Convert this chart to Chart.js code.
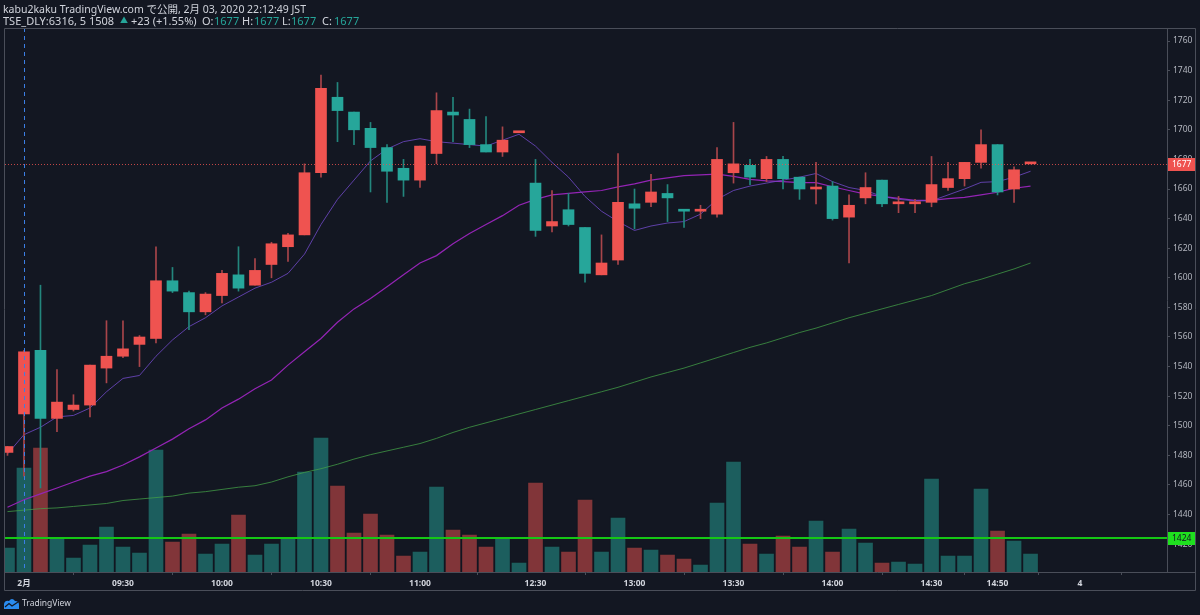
<!DOCTYPE html>
<html>
<head>
<meta charset="utf-8">
<script src="https://cdn.jsdelivr.net/npm/chart.js@4.4.0/dist/chart.umd.min.js"></script>
<style>
  html, body { margin: 0; padding: 0; background: #131722; }
  canvas { display: block; }
</style>
</head>
<body>
<canvas id="priceChart" width="1200" height="615" style="width:1200px;height:615px"></canvas>
<script>
// 5 minute bars, 6316 on 2020-02-03. First bar is the last one of the previous day (index -1).
const firstIndex = -1;

const opens = [1482,
  1508, 1551, 1505, 1511, 1514, 1539, 1547, 1555, 1559, 1598,
  1590, 1577, 1588, 1602, 1595, 1609, 1621, 1629, 1671, 1722,
  1712, 1701, 1688, 1674, 1666, 1684, 1712, 1707, 1690, 1685,
  1698, 1664, 1635, 1646, 1634, 1602, 1612, 1650, 1651, 1657,
  1646, 1645, 1643, 1671, 1676, 1667, 1680, 1668, 1660, 1662,
  1641, 1654, 1666, 1650, 1650, 1651, 1661, 1667, 1678, 1690,
  1660, 1677];
const highs = [1486,
  1551, 1595, 1538, 1521, 1541, 1571, 1571, 1561, 1621, 1607,
  1591, 1590, 1605, 1621, 1613, 1624, 1630, 1677, 1737, 1732,
  1712, 1705, 1690, 1680, 1689, 1725, 1722, 1714, 1709, 1702,
  1698, 1680, 1659, 1657, 1634, 1629, 1684, 1660, 1670, 1663,
  1646, 1649, 1688, 1705, 1680, 1682, 1682, 1668, 1678, 1665,
  1656, 1671, 1666, 1655, 1653, 1682, 1678, 1678, 1700, 1690,
  1675, 1677];
const lows = [1480,
  1466, 1458, 1496, 1510, 1506, 1529, 1546, 1540, 1556, 1590,
  1565, 1575, 1583, 1591, 1595, 1600, 1611, 1629, 1668, 1692,
  1690, 1658, 1651, 1655, 1661, 1677, 1692, 1688, 1685, 1682,
  1698, 1628, 1631, 1635, 1597, 1602, 1609, 1633, 1648, 1638,
  1634, 1640, 1641, 1664, 1663, 1665, 1660, 1653, 1650, 1639,
  1610, 1650, 1648, 1644, 1644, 1648, 1659, 1662, 1674, 1656,
  1651, 1677];
const closes = [1486,
  1550, 1505, 1516, 1514, 1541, 1547, 1552, 1560, 1598, 1591,
  1577, 1589, 1603, 1593, 1605, 1623, 1629, 1671, 1728, 1713,
  1700, 1688, 1672, 1666, 1689, 1713, 1710, 1690, 1685, 1693,
  1698, 1632, 1638, 1636, 1603, 1610, 1651, 1647, 1658, 1654,
  1645, 1646, 1680, 1677, 1668, 1680, 1667, 1660, 1661, 1640,
  1649, 1661, 1650, 1650, 1650, 1663, 1667, 1678, 1690, 1658,
  1673, 1677];
const volumes = [2500,
  10500, 12500, 3400, 1500, 2800, 4600, 2600, 2000, 12300, 3100,
  3900, 1900, 2900, 5800, 1800, 2900, 3400, 10100, 13500, 8700,
  4000, 5900, 3800, 1700, 2100, 8600, 4300, 3800, 2600, 3400,
  1000, 9000, 2600, 2100, 7300, 2100, 5500, 2500, 2300, 1800,
  1400, 800, 7000, 11100, 2900, 1900, 3700, 2600, 5200, 2100,
  4400, 3000, 1000, 1100, 900, 9400, 1700, 1700, 8400, 4200,
  3200, 1900];

// moving averages as drawn on the chart
const maShort = [1481,
  1494, 1499, 1506, 1507, 1512, 1523, 1532, 1534, 1547, 1558,
  1567, 1573, 1581, 1587, 1593, 1597, 1603, 1616, 1636, 1653,
  1666, 1679, 1687, 1692, 1694, 1692, 1691, 1690, 1689, 1693,
  1697, 1689, 1678, 1668, 1655, 1645, 1638, 1632, 1635, 1637,
  1638, 1643, 1653, 1659, 1662, 1664, 1666, 1668, 1670.5, 1665,
  1661, 1659, 1655, 1653, 1652, 1652, 1656, 1660, 1664.5, 1665,
  1668, 1672];
const maMid = [1445,
  1450, 1454, 1458, 1462, 1466, 1469, 1473.5, 1479, 1485, 1491,
  1498, 1504, 1512, 1518, 1525, 1531, 1541, 1550, 1559, 1570,
  1579, 1586, 1594, 1602, 1610, 1615, 1623, 1630, 1636, 1642,
  1649, 1653, 1656, 1657, 1658, 1659, 1661.5, 1663.5, 1666, 1667.5,
  1669, 1669.5, 1670, 1668.5, 1666.5, 1665.5, 1665, 1664.3, 1664.3, 1661.5,
  1659, 1656.5, 1655, 1653.7, 1652.3, 1652.3, 1653.5, 1654.4, 1656, 1657.8,
  1660.5, 1662];
const maLong = [1442,
  1443, 1444, 1444.5, 1445.5, 1446.5, 1447.5, 1449.5, 1450.5, 1451.5, 1452.5,
  1454.5, 1455.5, 1457, 1458.5, 1459.5, 1462, 1465.5, 1468.5, 1471, 1474,
  1477.5, 1480.5, 1483, 1485.5, 1488, 1491.5, 1495.5, 1499, 1502, 1505,
  1508, 1511, 1514, 1517, 1520, 1523, 1526, 1529.5, 1533, 1536,
  1539, 1542.5, 1546, 1549.5, 1553, 1556, 1559.5, 1563, 1566, 1569.5,
  1573, 1576, 1579, 1582, 1585, 1588, 1592, 1596, 1599, 1602.5,
  1606, 1610];

// time axis
const timeTickPos = [0, 6, 12, 18, 24, 31, 37, 43, 49, 55, 59, 64];
const timeTickLabels = ['2月', '09:30', '10:00', '10:30', '11:00', '12:30', '13:00', '13:30', '14:00', '14:30', '14:50', '4'];
// price axis
const priceTicks = [1420, 1440, 1460, 1480, 1500, 1520, 1540, 1560, 1580, 1600, 1620, 1640, 1660, 1680, 1700, 1720, 1740, 1760];
const lastPrice = 1677;
const alertPrice = 1424;
const cursorIndex = 0;

const BG = '#131722';
const UP = '#ef5350';
const DOWN = '#26a69a';
const UP_WICK = '#a8454a';
const DOWN_WICK = '#23867d';
const FRAME = '#4a4e59';
const FONT = '"Noto Sans", "Noto Sans CJK JP", sans-serif';

const xs = opens.map((_, i) => i + firstIndex);
const isUp = opens.map((o, i) => closes[i] >= o);

//Background, overlays, header and axis labels
const decorPlugin = {
  id: 'decor',
  beforeDraw(chart) {
    const ctx = chart.ctx;
    ctx.save();
    ctx.fillStyle = BG;
    ctx.fillRect(0, 0, chart.width, chart.height);
    ctx.restore();
  },
  afterDatasetsDraw(chart) {
    const ctx = chart.ctx;
    const area = chart.chartArea;
    const yS = chart.scales.y;
    const xS = chart.scales.x;
    ctx.save();
    ctx.beginPath();
    ctx.rect(area.left, area.top, area.right - area.left, area.bottom - area.top);
    ctx.clip();

    // alert line
    const ya = Math.round(yS.getPixelForValue(alertPrice));
    ctx.strokeStyle = '#15c715';
    ctx.lineWidth = 2;
    ctx.beginPath();
    ctx.moveTo(area.left, ya);
    ctx.lineTo(area.right, ya);
    ctx.stroke();

    // last price line
    const yl = Math.round(yS.getPixelForValue(lastPrice)) + 0.5;
    ctx.strokeStyle = 'rgba(239,83,80,0.8)';
    ctx.lineWidth = 1;
    ctx.setLineDash([1, 2]);
    ctx.beginPath();
    ctx.moveTo(area.left, yl);
    ctx.lineTo(area.right, yl);
    ctx.stroke();

    // crosshair
    const xc = Math.round(xS.getPixelForValue(cursorIndex)) + 0.5;
    ctx.strokeStyle = '#3b7fe6';
    ctx.setLineDash([4, 4]);
    ctx.beginPath();
    ctx.moveTo(xc, area.top);
    ctx.lineTo(xc, area.bottom);
    ctx.stroke();
    ctx.restore();
  },
  afterDraw(chart) {
    const ctx = chart.ctx;
    const area = chart.chartArea;
    const yS = chart.scales.y;
    ctx.save();

    // frame
    ctx.strokeStyle = FRAME;
    ctx.lineWidth = 1;
    ctx.beginPath();
    ctx.moveTo(4.5, area.top + 0.5);
    ctx.lineTo(1195.5, area.top + 0.5);
    ctx.lineTo(1195.5, 590.5);
    ctx.lineTo(4.5, 590.5);
    ctx.closePath();
    ctx.moveTo(area.right, area.bottom + 0.5);
    ctx.lineTo(1195.5, area.bottom + 0.5);
    ctx.stroke();

    // price labels on the axis
    const boxes = [
      { v: lastPrice, bg: UP, fg: '#ffffff' },
      { v: alertPrice, bg: '#1fe01f', fg: '#131722' },
    ];
    ctx.font = '8.5px ' + FONT;
    ctx.textBaseline = 'middle';
    boxes.forEach((b) => {
      const y = Math.round(yS.getPixelForValue(b.v));
      ctx.fillStyle = b.bg;
      ctx.fillRect(area.right + 1, y - 6, 1195 - area.right - 1, 13);
      ctx.fillStyle = b.fg;
      ctx.fillText(String(b.v), area.right + 5, y + 0.5);
    });

    // header
    ctx.textBaseline = 'alphabetic';
    ctx.font = '10.5px ' + FONT;
    ctx.fillStyle = '#d1d4dc';
    ctx.fillText('kabu2kaku TradingView.com で公開, 2月 03, 2020 22:12:49 JST', 3, 13);
    const parts = [
      ['TSE_DLY:6316, 5 1508', '#d1d4dc', 3],
      ['▲', DOWN, 120],
      ['+23 (+1.55%)', '#d1d4dc', 131],
      ['O:', '#d1d4dc', 202],
      ['1677', DOWN, 214],
      ['H:', '#d1d4dc', 242],
      ['1677', DOWN, 254],
      ['L:', '#d1d4dc', 282],
      ['1677', DOWN, 291],
      ['C:', '#d1d4dc', 322],
      ['1677', DOWN, 334],
    ];
    parts.forEach(([t, c, px]) => {
      ctx.fillStyle = c;
      ctx.font = (t === '▲' ? '8px ' : '11px ') + FONT;
      ctx.fillText(t, px, t === '▲' ? 23 : 25);
    });

    // footer logo
    ctx.fillStyle = '#2a8cf0';
    ctx.beginPath();
    ctx.moveTo(4, 609);
    ctx.lineTo(4, 604);
    ctx.quadraticCurveTo(5, 600, 9, 601);
    ctx.quadraticCurveTo(12, 597, 15, 601);
    ctx.quadraticCurveTo(19, 601, 19, 605);
    ctx.lineTo(19, 609);
    ctx.closePath();
    ctx.fill();
    ctx.strokeStyle = BG;
    ctx.lineWidth = 1.2;
    ctx.beginPath();
    ctx.moveTo(5, 607);
    ctx.lineTo(9, 603.5);
    ctx.lineTo(12, 606);
    ctx.lineTo(18, 602);
    ctx.stroke();
    ctx.fillStyle = '#d1d4dc';
    ctx.font = '8.5px ' + FONT;
    ctx.textBaseline = 'middle';
    ctx.fillText('TradingView', 22, 604);
    ctx.restore();
  },
};

function createChart() {
  const ctx = document.getElementById('priceChart').getContext('2d');

  return new Chart(ctx, {
    type: 'bar',
    data: {
      datasets: [
        {
          label: 'Body',
          data: xs.map((x, i) => ({ x: x, y: [opens[i], closes[i]] })),
          backgroundColor: isUp.map((u) => (u ? UP : DOWN)),
          borderWidth: 0,
          barThickness: 11,
          minBarLength: 2,
          grouped: false,
          yAxisID: 'y',
          order: 1,
        },
        {
          label: 'Wick',
          data: xs.map((x, i) => ({ x: x, y: [lows[i], highs[i]] })),
          backgroundColor: isUp.map((u) => (u ? UP_WICK : DOWN_WICK)),
          borderWidth: 0,
          barThickness: 1,
          minBarLength: 1,
          grouped: false,
          yAxisID: 'y',
          order: 2,
        },
        {
          type: 'line',
          label: 'MA short',
          data: xs.map((x, i) => ({ x: x, y: maShort[i] })),
          borderColor: 'rgba(112,74,200,0.8)',
          borderWidth: 1,
          pointRadius: 0,
          yAxisID: 'y',
          order: 3,
        },
        {
          type: 'line',
          label: 'MA mid',
          data: xs.map((x, i) => ({ x: x, y: maMid[i] })),
          borderColor: '#9424b5',
          borderWidth: 1.2,
          pointRadius: 0,
          yAxisID: 'y',
          order: 3,
        },
        {
          type: 'line',
          label: 'MA long',
          data: xs.map((x, i) => ({ x: x, y: maLong[i] })),
          borderColor: 'rgba(67,160,71,0.75)',
          borderWidth: 1,
          pointRadius: 0,
          yAxisID: 'y',
          order: 3,
        },
        {
          label: 'Volume',
          data: xs.map((x, i) => ({ x: x, y: volumes[i] })),
          backgroundColor: isUp.map((u) => (u ? 'rgba(38,166,154,0.5)' : 'rgba(239,83,80,0.5)')),
          borderColor: 'rgba(19,23,34,0.6)',
          borderWidth: 1,
          barThickness: 16,
          grouped: false,
          yAxisID: 'vol',
          order: 5,
        },
      ],
    },
    options: {
      responsive: false,
      animation: false,
      events: [],
      layout: { padding: { left: 5, top: 28, right: 4, bottom: 25 } },
      plugins: { legend: { display: false }, tooltip: { enabled: false } },
      scales: {
        x: {
          type: 'linear',
          min: -1.15,
          max: 69.27,
          offset: false,
          grid: { drawOnChartArea: false, tickLength: 3, color: FRAME },
          border: { display: true, color: FRAME },
          ticks: {
            autoSkip: false,
            maxRotation: 0,
            padding: 3,
            color: '#d1d4dc',
            font: { family: FONT, size: 8.5, weight: 'bold' },
            callback: (v) => {
              const k = timeTickPos.indexOf(v);
              return k >= 0 ? timeTickLabels[k] : '';
            },
          },
          afterBuildTicks: (scale) => {
            scale.ticks = timeTickPos.map((v) => ({ value: v }));
          },
          afterFit: (scale) => {
            scale.height = 18;
          },
        },
        y: {
          type: 'linear',
          position: 'right',
          min: 1401.2,
          max: 1768.8,
          grid: { drawOnChartArea: false, tickLength: 3, color: FRAME },
          border: { display: true, color: FRAME },
          ticks: {
            padding: 3,
            color: '#b2b5be',
            font: { family: FONT, size: 8.5 },
            callback: (v) => String(v),
          },
          afterBuildTicks: (scale) => {
            scale.ticks = priceTicks.map((v) => ({ value: v }));
          },
          afterFit: (scale) => {
            scale.width = 29;
          },
        },
        vol: {
          type: 'linear',
          display: false,
          min: 0,
          max: 54400,
        },
      },
    },
    plugins: [decorPlugin],
  });
}

document.addEventListener('DOMContentLoaded', createChart);
</script>
</body>
</html>
